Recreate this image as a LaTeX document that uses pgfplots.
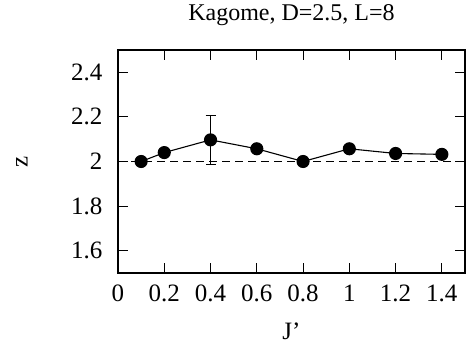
\documentclass[border=0pt]{standalone}
\usepackage{pgfplots}
\pgfplotsset{compat=1.18}
\usepackage{fontspec}
\setmainfont{Liberation Serif}
\begin{document}
\begin{tikzpicture}
\begin{axis}[
  scale only axis, width=347pt, height=223pt,
  xmin=0, xmax=1.5, ymin=1.5, ymax=2.5,
  xtick={0,0.2,0.4,0.6,0.8,1,1.2,1.4},
  ytick={1.6,1.8,2,2.2,2.4},
  tick align=inside, major tick length=10pt,
  axis line style={line width=1.4pt},
  every tick/.style={line width=1.1pt, black},
  /pgf/number format/assume math mode=true,
  every tick label/.append style={font=\fontsize{25}{26}\selectfont},
  xticklabel style={yshift=-8pt},
  yticklabel style={xshift=-12pt},
  title={Kagome, D=2.5, L=8},
  title style={font=\fontsize{24}{25}\selectfont, at={(axis description cs:0.5,1)}, anchor=center, yshift=29pt},
  xlabel={J'},
  xlabel style={font=\fontsize{25}{26}\selectfont, at={(axis description cs:0.5,0)}, anchor=center, yshift=-58pt},
  ylabel={z},
  ylabel style={font=\fontsize{25}{26}\selectfont, at={(axis description cs:0,0.5)}, anchor=center, yshift=96pt},
]
\addplot[black, line width=1pt, dash pattern=on 8pt off 5pt] coordinates {(0,2) (1.5,2)};
\addplot[black, line width=1pt, forget plot, draw=none, mark=none,
  error bars/.cd, y dir=both, y explicit,
  error bar style={line width=1pt, black},
  error mark options={rotate=90, mark size=5pt, line width=1pt, black}]
  coordinates {(0.4,2.097) +- (0,0.11)};
\addplot[black, line width=1.1pt, mark=*, mark size=6pt, mark options={fill=black}] coordinates {
  (0.1,2.0) (0.2,2.04) (0.4,2.097) (0.6,2.057) (0.8,2.0) (1.0,2.057) (1.2,2.036) (1.4,2.032)
};
\end{axis}
\pgfresetboundingbox
\path[use as bounding box] ([xshift=-118pt,yshift=-72pt]current axis.south west) rectangle ([xshift=3pt,yshift=50pt]current axis.north east);
\end{tikzpicture}
\end{document}
